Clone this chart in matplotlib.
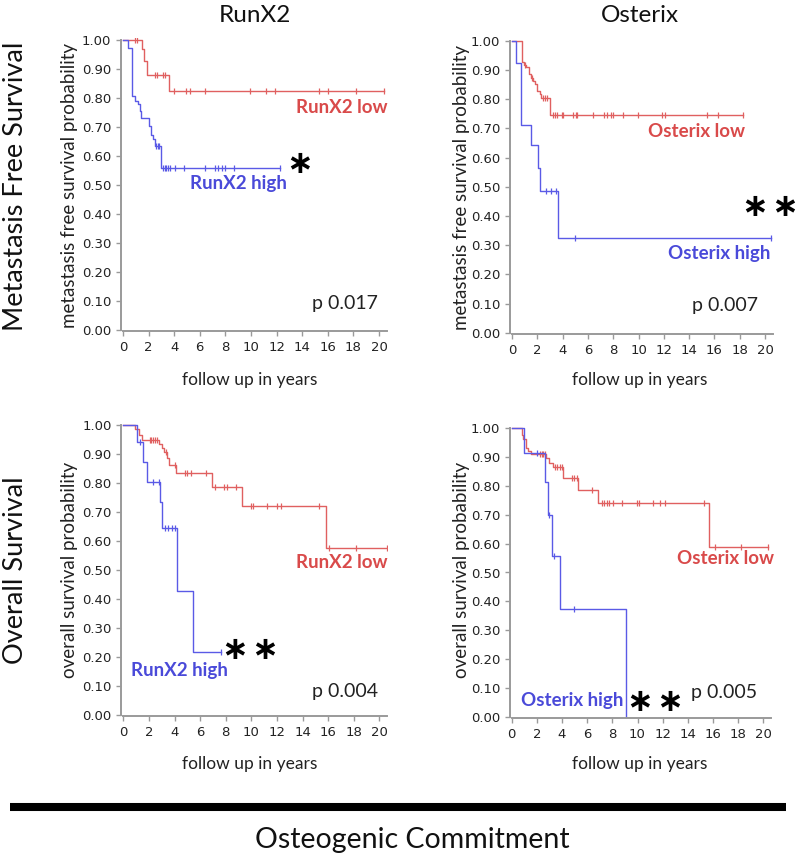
import matplotlib
matplotlib.use("Agg")
import matplotlib.pyplot as plt
import numpy as np

plt.rcParams['font.family'] = ['Lato', 'DejaVu Sans']

RED_LINE = '#e06060'
BLUE_LINE = '#5a5ae6'
RED_TXT = '#d94a4a'
BLUE_TXT = '#4a4ad9'

# ---- metastasis free survival, RunX2 ----
mfs_runx2_low_t = [0, 1.45, 1.65, 1.9, 3.57, 20.4]
mfs_runx2_low_s = [1.0, 0.967, 0.927, 0.877, 0.823, 0.823]
mfs_runx2_low_c = [0.9, 1.1, 2.5, 2.67, 3.1, 3.3, 3.98, 4.95, 5.2, 6.4, 9.9, 11.2, 11.9, 15.3, 16.0, 18.2, 20.4]
mfs_runx2_high_t = [0, 0.4, 0.7, 0.9, 1.2, 1.3, 1.43, 2.0, 2.16, 2.34, 2.47, 3.0, 12.3]
mfs_runx2_high_s = [1.0, 0.972, 0.806, 0.789, 0.777, 0.754, 0.731, 0.702, 0.673, 0.657, 0.633, 0.559, 0.559]
mfs_runx2_high_c = [2.6, 2.75, 2.85, 3.1, 3.25, 3.38, 3.52, 3.65, 4.04, 4.77, 6.43, 7.2, 7.45, 7.71, 7.97, 8.7, 12.3]

# ---- metastasis free survival, Osterix ----
mfs_osx_low_t = [0, 0.79, 0.95, 1.13, 1.32, 1.48, 1.66, 1.79, 2.0, 2.19, 2.32, 2.98, 18.3]
mfs_osx_low_s = [1.0, 0.926, 0.918, 0.909, 0.888, 0.874, 0.863, 0.851, 0.828, 0.817, 0.805, 0.745, 0.745]
mfs_osx_low_c = [1.0, 1.55, 2.45, 2.6, 2.8, 3.27, 3.4, 3.53, 3.92, 4.05, 4.79, 5.06, 5.16, 6.43, 7.27, 7.54,
                 7.8, 8.01, 8.75, 9.99, 11.83, 12.1, 15.39, 16.31, 18.3]
mfs_osx_high_t = [0, 0.34, 0.69, 0.74, 1.48, 2.06, 2.19, 3.64, 20.5]
mfs_osx_high_s = [1.0, 0.925, 0.783, 0.711, 0.642, 0.565, 0.485, 0.324, 0.324]
mfs_osx_high_c = [2.71, 3.06, 3.45, 4.96, 20.5]

# ---- overall survival, RunX2 ----
os_runx2_low_t = [0, 0.9, 1.2, 1.45, 2.75, 3.0, 3.2, 3.4, 3.6, 4.1, 6.9, 9.25, 15.85, 20.6]
os_runx2_low_s = [1.0, 0.984, 0.965, 0.947, 0.932, 0.921, 0.905, 0.884, 0.862, 0.832, 0.786, 0.721, 0.574, 0.574]
os_runx2_low_c = [2.08, 2.2, 2.35, 2.5, 2.66, 3.3, 4.04, 4.82, 5.0, 5.26, 6.46, 7.16, 7.87, 8.07, 8.8,
                  10.0, 10.16, 11.2, 12.0, 12.3, 15.3, 16.1, 18.2, 20.6]
os_runx2_high_t = [0, 1.04, 1.51, 1.82, 2.87, 2.99, 4.22, 5.42, 7.6]
os_runx2_high_s = [1.0, 0.941, 0.872, 0.803, 0.732, 0.643, 0.427, 0.215, 0.215]
os_runx2_high_c = [1.3, 2.35, 2.8, 3.26, 3.52, 3.78, 4.04, 7.6]

# ---- overall survival, Osterix ----
os_osx_low_t = [0, 0.79, 0.93, 1.14, 1.32, 1.51, 2.73, 2.99, 3.26, 4.05, 5.3, 6.89, 15.7, 20.4]
os_osx_low_s = [1.0, 0.976, 0.962, 0.93, 0.92, 0.909, 0.895, 0.88, 0.866, 0.828, 0.785, 0.739, 0.589, 0.589]
os_osx_low_c = [2.25, 2.38, 2.51, 2.65, 3.44, 3.63, 3.84, 3.97, 4.77, 4.95, 5.17, 6.36, 7.15, 7.34, 7.55,
                7.76, 8.08, 8.74, 9.93, 10.15, 11.26, 11.79, 12.18, 15.28, 16.16, 18.2, 20.4]
os_osx_high_t = [0, 1.0, 2.65, 2.85, 3.2, 3.85, 9.1]
os_osx_high_s = [1.0, 0.915, 0.813, 0.698, 0.558, 0.374, 0.0]
os_osx_high_c = [2.0, 3.0, 3.36, 4.96]

# panel geometry in pixels: x=0 pixel, px per year, y=1 pixel, y=0 pixel
panels = [
    dict(x0=123, px=12.8, top=39.7, bot=329.7,
         low=(mfs_runx2_low_t, mfs_runx2_low_s, mfs_runx2_low_c),
         high=(mfs_runx2_high_t, mfs_runx2_high_s, mfs_runx2_high_c),
         texts=[('RunX2 low', 17.1, 0.765, RED_TXT), ('RunX2 high', 9.0, 0.505, BLUE_TXT)],
         star=('\u2217', 13.8, 0.57), p=('p 0.017', 17.3, 0.09)),
    dict(x0=512, px=12.65, top=40.8, bot=332.8,
         low=(mfs_osx_low_t, mfs_osx_low_s, mfs_osx_low_c),
         high=(mfs_osx_high_t, mfs_osx_high_s, mfs_osx_high_c),
         texts=[('Osterix low', 14.6, 0.69, RED_TXT), ('Osterix high', 16.4, 0.27, BLUE_TXT)],
         star=('\u2217\u200a\u2217', 20.4, 0.43), p=('p 0.007', 16.8, 0.095)),
    dict(x0=123.3, px=12.8, top=424.7, bot=714.7,
         low=(os_runx2_low_t, os_runx2_low_s, os_runx2_low_c),
         high=(os_runx2_high_t, os_runx2_high_s, os_runx2_high_c),
         texts=[('RunX2 low', 17.1, 0.525, RED_TXT), ('RunX2 high', 4.4, 0.153, BLUE_TXT)],
         star=('\u2217\u200a\u2217', 9.9, 0.22), p=('p 0.004', 17.3, 0.08)),
    dict(x0=511.7, px=12.58, top=428, bot=717,
         low=(os_osx_low_t, os_osx_low_s, os_osx_low_c),
         high=(os_osx_high_t, os_osx_high_s, os_osx_high_c),
         texts=[('Osterix low', 17.0, 0.549, RED_TXT), ('Osterix high', 4.8, 0.058, BLUE_TXT)],
         star=('\u2217\u200a\u2217', 11.4, 0.05), p=('p 0.005', 16.9, 0.085)),
]

W, H = 800, 855
fig = plt.figure(figsize=(8, 8.55), dpi=100)

xmin, xmax = -0.15, 20.6
ymin, ymax = -0.005, 1.005


def value_at(t, s, c):
    idx = np.searchsorted(np.array(t), np.array(c), side='right') - 1
    return np.array(s)[idx]


for p in panels:
    yscale = p['bot'] - p['top']
    left = p['x0'] + xmin * p['px']
    right = p['x0'] + xmax * p['px']
    top = p['top'] - (ymax - 1) * yscale
    bot = p['bot'] - ymin * yscale
    ax = fig.add_axes([left / W, 1 - bot / H, (right - left) / W, (bot - top) / H])

    for (t, s, c), col in [(p['low'], RED_LINE), (p['high'], BLUE_LINE)]:
        ax.step(t, s, where='post', color=col, lw=1.0)
        ax.plot(c, value_at(t, s, c), linestyle='none', marker='|', ms=5, mew=0.9, color=col)

    ax.set_xlim(xmin, xmax)
    ax.set_ylim(ymin, ymax)
    ax.set_xticks(np.arange(0, 21, 2))
    ax.set_yticks(np.arange(0, 1.01, 0.1))
    ax.set_yticklabels(['%.2f' % v for v in np.arange(0, 1.01, 0.1)])
    for sp in ['top', 'right']:
        ax.spines[sp].set_visible(False)
    for sp in ['left', 'bottom']:
        ax.spines[sp].set_color('#9a9a9a')
        ax.spines[sp].set_linewidth(1.4)
    ax.spines['left'].set_bounds(0, 1)
    ax.spines['bottom'].set_bounds(0, 20.6)
    ax.tick_params(colors='#9a9a9a', length=3.5, width=1, labelcolor='#222222', labelsize=9.5)
    for lab in ax.get_xticklabels() + ax.get_yticklabels():
        lab.set_family('DejaVu Sans')
    ax.patch.set_visible(False)

    for txt, x, y, col in p['texts']:
        ax.text(x, y, txt, color=col, fontsize=13.5, fontweight='bold', ha='center', va='center')
    st, sx, sy = p['star']
    ax.text(sx, sy, st, fontsize=23, fontweight='bold', ha='center', va='center', color='black',
            clip_on=False, family='DejaVu Sans')
    pt, px_, py_ = p['p']
    ax.text(px_, py_, pt, fontsize=14, ha='center', va='center', color='#222222')

# y axis labels of the panels
for x, y, txt in [(70, 185, 'metastasis free survival probability'),
                  (462, 188, 'metastasis free survival probability'),
                  (70, 570, 'overall survival probability'),
                  (462, 570, 'overall survival probability')]:
    fig.text(x / W, 1 - y / H, txt, rotation=90, fontsize=13.5, ha='center', va='center', color='#222222')

for x, y in [(250, 380), (640, 380), (250, 764), (640, 764)]:
    fig.text(x / W, 1 - y / H, 'follow up in years', fontsize=12.5, ha='center', va='center', color='#222222')

fig.text(255 / W, 1 - 16 / H, 'RunX2', fontsize=17.5, ha='center', va='center', color='#111111')
fig.text(640 / W, 1 - 16 / H, 'Osterix', fontsize=17.5, ha='center', va='center', color='#111111')
fig.text(16 / W, 1 - 186 / H, 'Metastasis Free Survival', rotation=90, fontsize=19.5, ha='center',
         va='center', color='#111111')
fig.text(16 / W, 1 - 570 / H, 'Overall Survival', rotation=90, fontsize=19.5, ha='center', va='center',
         color='#111111')

fig.add_artist(plt.Line2D([10 / W, 786 / W], [1 - 807 / H, 1 - 807 / H], color='black', lw=5.8,
                          transform=fig.transFigure, solid_capstyle='butt'))
fig.text(412 / W, 1 - 840 / H, 'Osteogenic Commitment', fontsize=20.5, ha='center', va='center',
         color='#111111')

fig.savefig('out.png', dpi=100)
